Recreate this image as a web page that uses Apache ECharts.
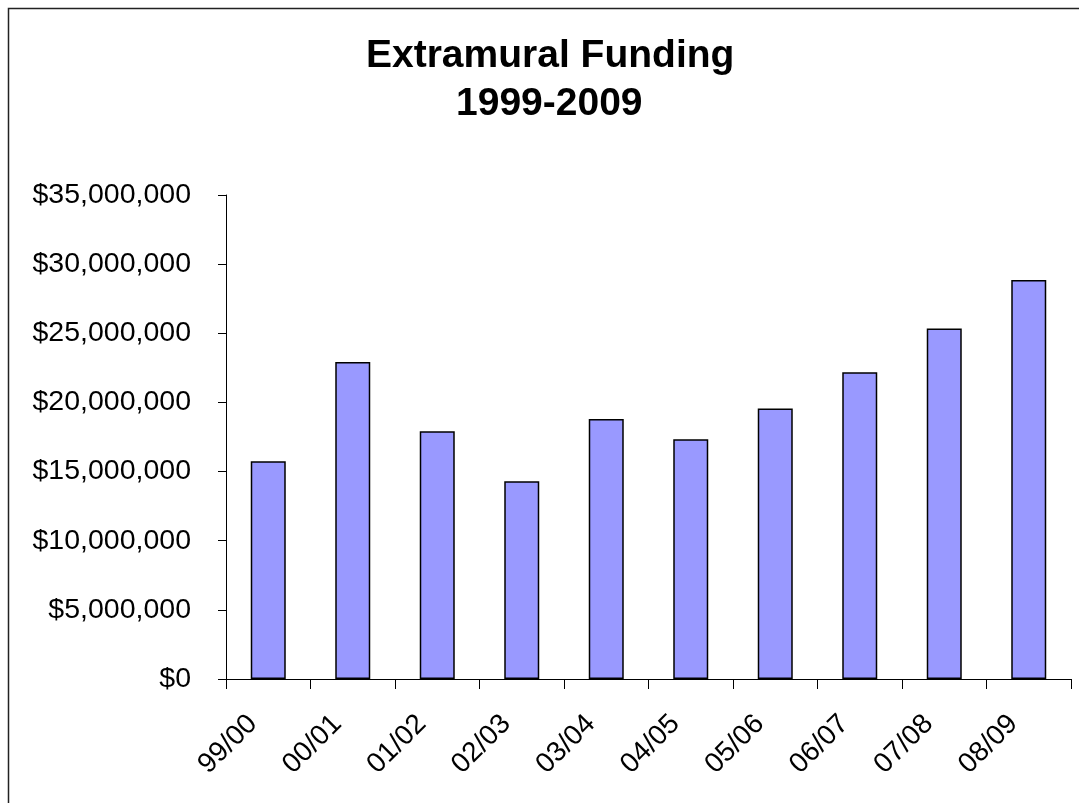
<!DOCTYPE html>
<html>
<head>
<meta charset="utf-8">
<script src="https://cdn.jsdelivr.net/npm/echarts@6/dist/echarts.min.js"></script>
<style>
html,body{margin:0;padding:0;background:#fff;}
#chart{width:1079px;height:803px;}
</style>
</head>
<body>
<div id="chart"></div>
<script>
const titleLines = ["Extramural Funding", "1999-2009"];
const categories = ["99/00","00/01","01/02","02/03","03/04","04/05","05/06","06/07","07/08","08/09"];
const funding = [15750000, 22920000, 17920000, 14300000, 18800000, 17340000, 19560000, 22180000, 25340000, 28860000];
const yMin = 0, yMax = 35000000, yStep = 5000000;

function money(v){
  return "$" + Math.round(v).toString().replace(/\B(?=(\d{3})+(?!\d))/g, ",");
}

const titleFont = {fontFamily: 'Liberation Sans, Arial, sans-serif', fontWeight: 'bold', fontSize: 39, lineHeight: 47, color: '#000'};

const chart = echarts.init(document.getElementById('chart'));
chart.setOption({
  backgroundColor: '#fff',
  animation: false,
  graphic: [{
    type: 'rect',
    left: 6, top: 6,
    shape: {width: 1200, height: 900},
    style: {fill: 'none', stroke: '#222', lineWidth: 1.5},
    silent: true
  }],
  title: [
    {text: titleLines[0], left: 366, top: 33, padding: 0, textStyle: titleFont},
    {text: titleLines[1], left: 456, top: 81, padding: 0, textStyle: titleFont}
  ],
  grid: {left: 226, right: 8, top: 195, bottom: 124, containLabel: false},
  xAxis: {
    type: 'category',
    data: categories,
    boundaryGap: true,
    axisLine: {show: true, lineStyle: {color: '#000', width: 1}},
    axisTick: {show: true, length: 10, alignWithLabel: false, lineStyle: {color: '#000'}},
    axisLabel: {rotate: 45, margin: 25, padding: [0, 22, 0, 0], fontFamily: 'Liberation Sans, Arial, sans-serif', fontSize: 28, color: '#000', interval: 0},
    splitLine: {show: false}
  },
  yAxis: {
    type: 'value',
    min: yMin, max: yMax, interval: yStep,
    axisLine: {show: true, lineStyle: {color: '#000', width: 1}},
    axisTick: {show: true, length: 8, lineStyle: {color: '#000'}},
    axisLabel: {margin: 35, fontFamily: 'Liberation Sans, Arial, sans-serif', fontSize: 28.5, color: '#000', formatter: money},
    splitLine: {show: false}
  },
  series: [{
    type: 'bar',
    data: funding,
    barWidth: 35,
    itemStyle: {color: '#9999FF', borderColor: '#000', borderWidth: 1.5}
  }]
});
</script>
</body>
</html>
